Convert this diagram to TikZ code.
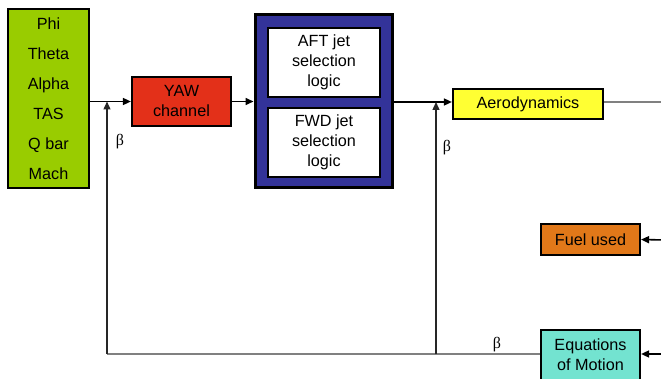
\documentclass[tikz,border=0pt]{standalone}
\usepackage{fontspec}
\setmainfont{Liberation Sans}
\newfontfamily\serifb{Liberation Serif}
\usetikzlibrary{arrows.meta}
\definecolor{cgreen}{RGB}{153,204,0}
\definecolor{cred}{RGB}{227,48,25}
\definecolor{cblue}{RGB}{51,51,153}
\definecolor{cyellow}{RGB}{255,255,51}
\definecolor{corange}{RGB}{225,120,25}
\definecolor{cteal}{RGB}{115,227,208}
\definecolor{cgray}{RGB}{128,128,128}
\tikzset{
  blk/.style={draw=black, line width=2.2pt, rectangle, inner sep=0pt, align=center,
    font=\fontsize{16.2}{20}\selectfont},
  tip/.style={-{Triangle[length=8pt,width=7pt]}},
  conn/.style={line width=1.6pt, draw=black, tip},
  fb/.style={line width=1.4pt, draw=black!85},
  lbl/.style={font=\serifb\fontsize{16}{18}\selectfont, inner sep=0pt}
}
\begin{document}
\begin{tikzpicture}[x=1pt,y=-1pt]
\clip (0,0) rectangle (661,379);
\fill[white] (0,0) rectangle (661,379);
\node[blk, fill=cgreen, minimum width=81pt, minimum height=179pt,
      font=\fontsize{16.2}{30}\selectfont] (inp) at (48.5,98.5)
      {Phi\\Theta\\Alpha\\TAS\\Q bar\\Mach};
\node[blk, fill=cred, minimum width=99pt, minimum height=49pt] (yaw) at (181.5,101.5) {YAW\\channel};
\node[blk, fill=cblue, line width=3pt, minimum width=137pt, minimum height=173pt] (jet) at (323.5,101.5) {};
\node[blk, fill=white, minimum width=112pt, minimum height=69pt] (aft) at (324,62.5) {AFT jet\\selection\\logic};
\node[blk, fill=white, minimum width=112pt, minimum height=69pt] (fwd) at (324,142.5) {FWD jet\\selection\\logic};
\node[blk, fill=cyellow, minimum width=150pt, minimum height=30pt] (aero) at (528,104) {Aerodynamics};
\node[blk, fill=corange, minimum width=99pt, minimum height=31pt] (fuel) at (590.5,239.5) {Fuel used};
\node[blk, fill=cteal, minimum width=99pt, minimum height=50pt] (eom) at (590.5,355) {Equations\\of Motion};
\coordinate (j1) at (107,101.5);
\coordinate (j2) at (436,102);
\coordinate (b1) at (107,354);
\coordinate (b2) at (436,354);
\coordinate (aout) at (661,102);
\coordinate (fin) at (665,240);
\coordinate (ein) at (665,354);
% forward connectors
\draw[conn] (inp.east |- j1) -- (yaw.west |- j1);
\draw[conn] (yaw.east |- j1) -- (jet.west |- j1);
\draw[conn] (jet.east |- j2) -- (aero.west |- j2);
\draw[line width=2pt, cgray] (aero.east |- j2) -- (aout);
\draw[conn] (fin) -- (fuel.east);
\draw[conn] (ein) -- (eom.east |- ein);
% feedback
\draw[line width=1.4pt, cgray] (eom.west |- b1) -- (b1);
\draw[fb, tip] (b1) -- (j1);
\draw[fb, tip] (b2) -- (j2);
\node[lbl] (l1) at (120,142) {β};
\node[lbl] (l2) at (447,148) {β};
\node[lbl] (l3) at (497,345) {β};
\end{tikzpicture}
\end{document}
